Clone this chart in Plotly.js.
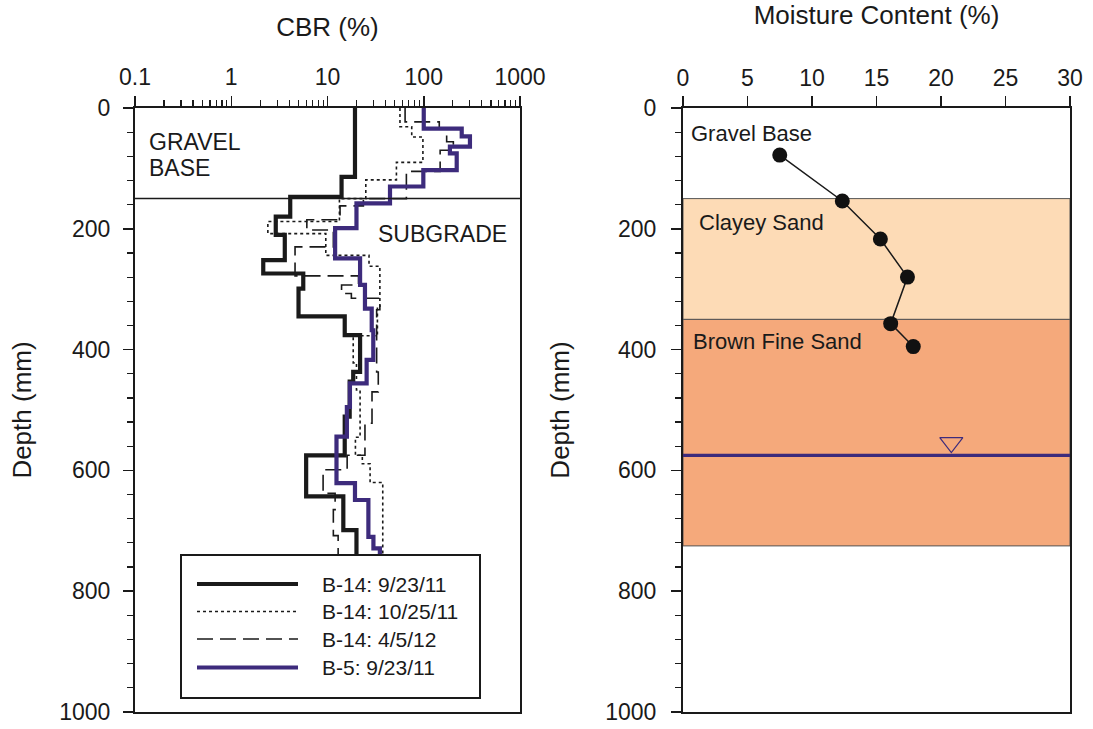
<!DOCTYPE html>
<html><head><meta charset="utf-8">
<script src="https://cdn.plot.ly/plotly-3.0.1.min.js"></script>
<style>html,body{margin:0;padding:0;background:#fff}#chart{width:1093px;height:729px}</style>
</head><body><div id="chart"></div>
<script>
// ---------- CBR profiles (step functions: value i applies from depth i to depth i+1) ----------
const b14_0923_depth = [0,114,147,180,210,252,274,299,345,376,437,453,511,575,643,699,745];
const b14_0923_cbr   = [19.3,14,4.1,2.9,3.6,2.15,5.6,5.0,15.1,21.8,18.5,17,15.1,6.0,14.6,20];

const b14_1025_depth = [0,31,48,90,119,150,188,208,244,262,330,377,422,467,545,575,589,620,745];
const b14_1025_cbr   = [56.6,75,98,52,25,13.3,2.4,9.6,27,35,33,18.5,20,21.8,19.5,23,27.7,37.5];

const b14_0405_depth = [0,23,34,56,70,105,150,162,185,202,230,278,293,307,315,334,437,470,522,575,599,638,665,708,745];
const b14_0405_cbr   = [64,145,173,203,148,66,23.6,13.5,6.1,11.5,4.6,21,14,17.7,35,32.4,33.7,29,24.5,16,9.0,12,11.5,12.9];

const b5_0923_depth  = [0,34,47,64,75,103,130,158,199,249,293,332,368,417,456,495,544,621,649,710,729,745];
const b5_0923_cbr    = [100,248,302,187,220,99,44.6,20,12,21.8,24.5,28.8,29.9,25.5,17.1,15.9,12.4,19.3,26.6,30,35];

const seriesNames = ["B-14: 9/23/11","B-14: 10/25/11","B-14: 4/5/12","B-5: 9/23/11"];

const cbrTickVals = [0.1,1,10,100,1000];
const cbrTickText = ["0.1","1","10","100","1000"];
const subgradeTop = 150;

// ---------- Moisture content ----------
const moistureDepth = [78,154,217,280,357,395];
const moisture      = [7.5,12.35,15.3,17.4,16.1,17.85];

const layerNames  = ["Gravel Base","Clayey Sand","Brown Fine Sand"];
const layerTop    = [0,150,350];
const layerBottom = [150,350,725];
const layerLabelDepth = [43,189,387];
const layerLabelX     = [0.45,1.1,0.6];
const waterTableDepth = 575;
const waterMarkX = 20.8;
const waterMarkDepth = 554;

// ---------- styles ----------
const purple = "#3d2b7c";
const ink = "#1a1a1a";
const layerFill = ["rgba(0,0,0,0)","#fddbb6","#f5a97b"];
const styles = [
  {color: ink, width: 4.2, dash: "solid"},
  {color: ink, width: 1.6, dash: "dot"},
  {color: ink, width: 1.6, dash: "16px,7px"},
  {color: purple, width: 4.2, dash: "solid"}
];

function stepXY(depths, vals){
  const x=[], y=[];
  for(let i=0;i<vals.length;i++){ x.push(vals[i]); y.push(depths[i]); }
  x.push(vals[vals.length-1]); y.push(depths[depths.length-1]);
  return {x, y};
}

const profiles = [
  [b14_0923_depth, b14_0923_cbr],
  [b14_1025_depth, b14_1025_cbr],
  [b14_0405_depth, b14_0405_cbr],
  [b5_0923_depth,  b5_0923_cbr]
];
const drawOrder = [1,2,0,3];
const traces = [];
drawOrder.forEach(i => {
  const p = stepXY(profiles[i][0], profiles[i][1]);
  traces.push({
    type: "scatter", mode: "lines", x: p.x, y: p.y, xaxis: "x", yaxis: "y",
    name: seriesNames[i], showlegend: false,
    line: {shape: "vh", color: styles[i].color, width: styles[i].width, dash: styles[i].dash}
  });
});

traces.push({
  type: "scatter", mode: "lines+markers", x: moisture, y: moistureDepth,
  xaxis: "x2", yaxis: "y2", showlegend: false,
  line: {color: ink, width: 1.5},
  marker: {color: "#111", size: 15}
});
traces.push({
  type: "scatter", mode: "lines", x: [0, 30.2], y: [waterTableDepth, waterTableDepth],
  xaxis: "x2", yaxis: "y2", showlegend: false, cliponaxis: false,
  line: {color: purple, width: 3.2}
});
traces.push({
  type: "scatter", mode: "markers", x: [waterMarkX], y: [waterMarkDepth],
  xaxis: "x2", yaxis: "y2", showlegend: false,
  marker: {symbol: "triangle-down-open", size: 20, color: purple, line: {width: 1.2, color: purple}}
});

// geometry helpers (pixel -> paper) for legend box
const M = {l:135, r:23, t:108, b:17};
const PW = 1093 - M.l - M.r, PH = 729 - M.t - M.b;
const px = v => (v - M.l) / PW;
const py = v => (729 - M.b - v) / PH;

const shapes = [];
// layers (right panel)
for (let i=0;i<layerNames.length;i++){
  if (i===0) continue;
  shapes.push({type:"rect", xref:"x2", yref:"y2", x0:0, x1:30, y0:layerTop[i], y1:layerBottom[i],
    fillcolor: layerFill[i], line:{color:"#555", width:1}, layer:"below"});
}
// subgrade boundary (left panel)
shapes.push({type:"line", xref:"x domain", yref:"y", x0:0, x1:1, y0:subgradeTop, y1:subgradeTop,
  line:{color: ink, width: 1.5}});

// legend box
shapes.push({type:"rect", xref:"paper", yref:"paper", x0:px(181), x1:px(480), y0:py(555), y1:py(698),
  fillcolor:"#fff", line:{color: ink, width: 2}});
const legendRowsY = [584, 611.5, 639, 667.5];
const annotations = [];
seriesNames.forEach((n,i) => {
  shapes.push({type:"line", xref:"paper", yref:"paper", x0:px(197), x1:px(298), y0:py(legendRowsY[i]), y1:py(legendRowsY[i]),
    line:{color: styles[i].color, width: styles[i].width, dash: styles[i].dash}});
  annotations.push({xref:"paper", yref:"paper", x:px(320), y:py(legendRowsY[i]), xanchor:"left", yanchor:"middle",
    text:n, showarrow:false, font:{size:21, color: ink}});
});

annotations.push({xref:"paper", yref:"paper", x:px(147), y:py(142), xanchor:"left", yanchor:"middle",
  text:"GRAVEL", showarrow:false, font:{size:23, color: ink}});
annotations.push({xref:"paper", yref:"paper", x:px(147), y:py(168), xanchor:"left", yanchor:"middle",
  text:"BASE", showarrow:false, font:{size:23, color: ink}});
annotations.push({xref:"paper", yref:"paper", x:px(376), y:py(234), xanchor:"left", yanchor:"middle",
  text:"SUBGRADE", showarrow:false, font:{size:23, color: ink}});

layerNames.forEach((n,i) => {
  annotations.push({xref:"x2", yref:"y2", x:layerLabelX[i], y:layerLabelDepth[i], xanchor:"left", yanchor:"middle",
    text:n, showarrow:false, font:{size:22, color: ink}});
});

const minorLog = [];
for (let e=-1;e<3;e++) for (let k=2;k<10;k++) minorLog.push(k*Math.pow(10,e));

const tickFont = {size:23, color: ink};
const baseAxis = {
  showline:true, linewidth:2, linecolor: ink, mirror:true, showgrid:false, zeroline:false,
  ticks:"outside", ticklen:10, tickwidth:1.5, tickcolor: ink, tickfont: tickFont, automargin:false
};

const layout = {
  width:1093, height:729, margin: M,
  paper_bgcolor:"#fff", plot_bgcolor:"#fff",
  font:{family:"Arial, 'Liberation Sans', sans-serif", color: ink},
  showlegend:false,
  xaxis: Object.assign({}, baseAxis, {
    type:"log", range:[-1,3], domain:[0, 385/PW], side:"top", anchor:"y",
    tickmode:"array", tickvals: cbrTickVals, ticktext: cbrTickText, ticklabelstandoff: 2,
    minor:{tickmode:"array", tickvals: minorLog, ticks:"outside", ticklen:6, tickwidth:1.2, tickcolor: ink},
    title:{text:"CBR (%)", font:{size:26, color: ink}, standoff: 20}
  }),
  yaxis: Object.assign({}, baseAxis, {
    range:[1000,0], domain:[0,1], anchor:"x", dtick:200, tick0:0, ticklabelstandoff: 8,
    minor:{dtick:40, ticks:"outside", ticklen:6, tickwidth:1.2, tickcolor: ink},
    title:{text:"Depth (mm)", font:{size:26, color: ink}, standoff: 20}
  }),
  xaxis2: Object.assign({}, baseAxis, {
    range:[0,30], domain:[548/PW, 1], side:"top", anchor:"y2", dtick:5, tick0:0, ticklabelstandoff: 1,
    title:{text:"Moisture Content (%)", font:{size:26, color: ink}, standoff: 36}
  }),
  yaxis2: Object.assign({}, baseAxis, {
    range:[1000,0], domain:[0,1], anchor:"x2", dtick:200, tick0:0, ticklabelstandoff: 10,
    minor:{dtick:40, ticks:"outside", ticklen:6, tickwidth:1.2, tickcolor: ink},
    title:{text:"Depth (mm)", font:{size:26, color: ink}, standoff: 28}
  }),
  shapes: shapes,
  annotations: annotations
};

Plotly.newPlot("chart", traces, layout, {staticPlot:true, displayModeBar:false});
</script>
</body></html>
